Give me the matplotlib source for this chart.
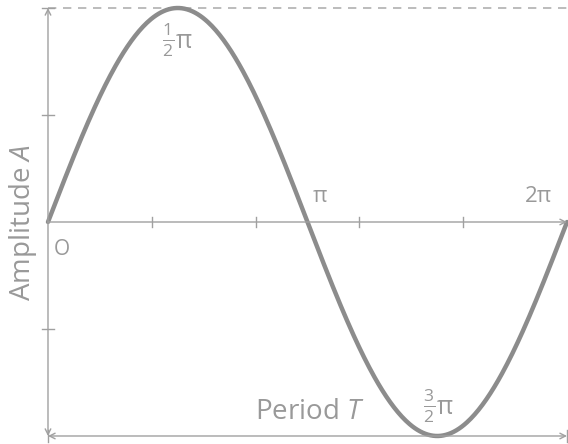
import numpy as np
import matplotlib
matplotlib.use("Agg")
import matplotlib.pyplot as plt

plt.rcParams['font.family'] = ['Open Sans', 'DejaVu Sans']
plt.rcParams['mathtext.fontset'] = 'custom'
plt.rcParams['mathtext.rm'] = 'Open Sans'
plt.rcParams['mathtext.it'] = 'Open Sans:italic'
plt.rcParams['mathtext.sf'] = 'DejaVu Sans'

# data
amplitude = 1.0
period = 2 * np.pi
x_ticks = [0.4 * np.pi, 0.8 * np.pi, 1.2 * np.pi, 1.6 * np.pi]
y_ticks = [0.5, -0.5]
point_labels = [r'$\frac{1}{2}$π', 'π', '2π', r'$\frac{3}{2}$π', 'O']
point_xy = [(0.5 * np.pi, 0.846), (3.29, 0.121), (5.94, 0.121),
            (1.503 * np.pi, -0.864), (0.17, -0.13)]
point_size = [18, 16, 16, 18, 15]

t = np.linspace(0, period, 400)
wave = amplitude * np.sin(t)

axis_col = '#a0a0a0'
curve_col = '#8c8c8c'
text_col = '#999999'

fig = plt.figure(figsize=(5.68, 4.44), dpi=100)
ax = fig.add_axes([0, 0, 1, 1])
ax.set_xlim(-0.581, 6.295)
ax.set_ylim(-1.0374, 1.0374)
ax.axis('off')

# top dashed reference
ax.plot([0, period], [amplitude, amplitude], color='#b0b0b0', lw=1.2,
        dashes=(5, 4))

# x axis
ax.annotate('', xy=(period, 0), xytext=(0, 0),
            arrowprops=dict(arrowstyle='->', color=axis_col, lw=1,
                            shrinkA=0, shrinkB=0, mutation_scale=10))
for xt in x_ticks:
    ax.plot([xt, xt], [-0.025, 0.025], color=axis_col, lw=1)

# amplitude dimension (left)
ax.annotate('', xy=(0, amplitude), xytext=(0, -amplitude),
            arrowprops=dict(arrowstyle='<->', color=axis_col, lw=1,
                            shrinkA=0, shrinkB=0, mutation_scale=10))
for yt in y_ticks:
    ax.plot([-0.07, 0.07], [yt, yt], color=axis_col, lw=1)
ax.plot([-0.07, 0.07], [amplitude, amplitude], color=axis_col, lw=1)

# period dimension (bottom)
ax.annotate('', xy=(period, -amplitude), xytext=(0, -amplitude),
            arrowprops=dict(arrowstyle='<->', color=axis_col, lw=1,
                            shrinkA=0, shrinkB=0, mutation_scale=10))
ax.plot([0, 0], [-amplitude - 0.03, -amplitude + 0.03], color=axis_col, lw=1)
ax.plot([period, period], [-amplitude - 0.03, -amplitude + 0.03], color=axis_col, lw=1)

# the wave
ax.plot(t, wave, color=curve_col, lw=3.2, solid_capstyle='round')

# labels
for lab, (lx, ly), fs in zip(point_labels, point_xy, point_size):
    ax.text(lx, ly, lab, color=text_col, fontsize=fs, ha='center', va='center')

ax.text(-0.30, 0, 'Amplitude $A$', color=text_col, fontsize=20,
        rotation=90, ha='center', va='center')
ax.text(3.17, -0.888, 'Period $T$', color=text_col, fontsize=20,
        ha='center', va='center')

fig.savefig('out.png', dpi=100)
